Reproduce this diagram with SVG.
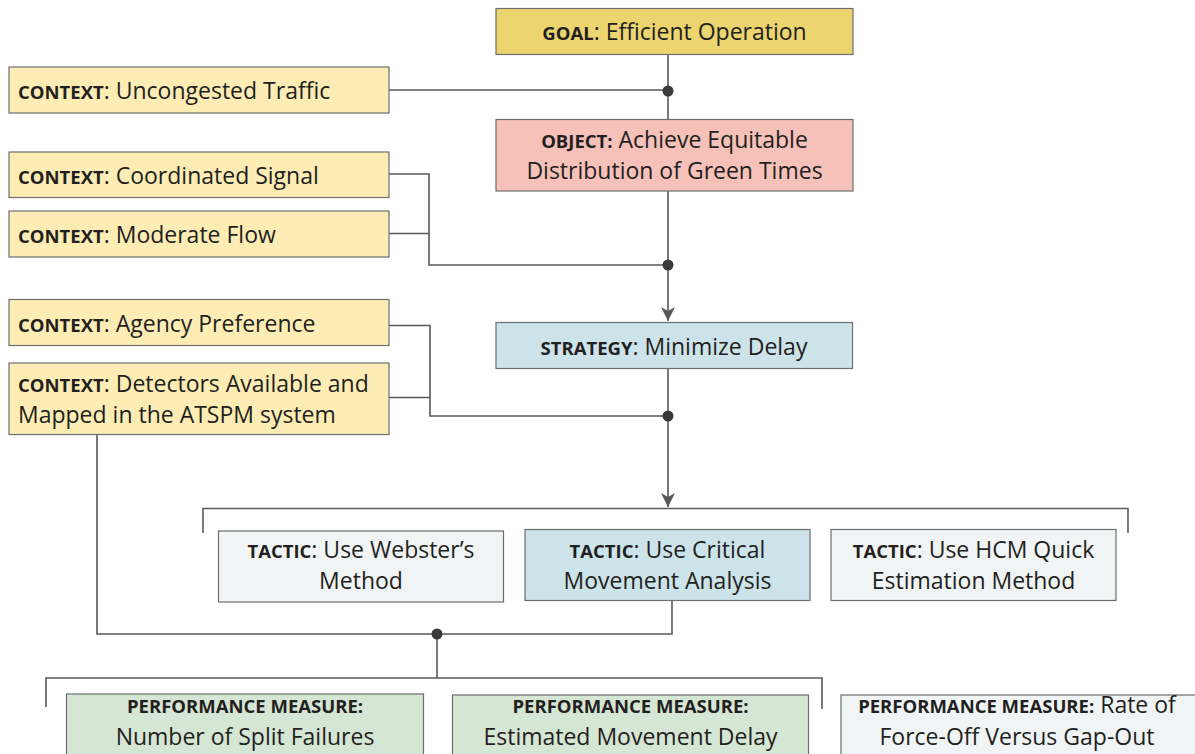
<svg xmlns="http://www.w3.org/2000/svg" width="1195" height="754" viewBox="0 0 1195 754">
<style>
.box{stroke:#6d6e70;stroke-width:1.2}
.goal{fill:#ecd46f}
.ctx{fill:#fdedb5}
.obj{fill:#f6c1b9}
.blue{fill:#cce3ea}
.light{fill:#f0f4f5}
.green{fill:#d6e6d4}
text{font-family:"Open Sans","Noto Sans","Liberation Sans",sans-serif;font-size:23px;fill:#231f20}
.b{font-weight:bold;font-size:18.5px}
.c{text-anchor:middle}
.ln{fill:none;stroke:#58595b;stroke-width:1.6}
.dot{fill:#3a3a3c}
</style>
<defs>
<marker id="arr" markerUnits="userSpaceOnUse" markerWidth="14" markerHeight="14" refX="14" refY="7" orient="auto">
<path d="M0,0 L14,7 L0,14 L4,7 z" fill="#58595b"/>
</marker>
</defs>
<g id="connectors">
<path class="ln" d="M668,54 V119"/>
<path class="ln" d="M389,90 H668"/>
<path class="ln" d="M668,191 V321" marker-end="url(#arr)"/>
<path class="ln" d="M389,174 H429 V265 H668"/>
<path class="ln" d="M389,233.5 H429"/>
<path class="ln" d="M668,368 V507" marker-end="url(#arr)"/>
<path class="ln" d="M389,325.5 H430 V416 H668"/>
<path class="ln" d="M389,397.5 H430"/>
<path class="ln" d="M203,533 V508.5 H1128 V533"/>
<path class="ln" d="M97,434 V634 H672 V600"/>
<path class="ln" d="M437,634 V678"/>
<path class="ln" d="M46,707 V678 H822 V709"/>
<circle class="dot" cx="668" cy="91" r="5.5"/>
<circle class="dot" cx="668" cy="265" r="5.5"/>
<circle class="dot" cx="668" cy="416" r="5.5"/>
<circle class="dot" cx="437" cy="634" r="5.5"/>
</g>
<g id="goal">
<rect class="box goal" x="496" y="8.5" width="357" height="46"/>
<text class="c" x="674.5" y="40"><tspan class="b">GOAL</tspan>: Efficient Operation</text>
</g>
<g id="ctx1">
<rect class="box ctx" x="9" y="67" width="380" height="46"/>
<text x="18" y="99"><tspan class="b">CONTEXT</tspan>: Uncongested Traffic</text>
</g>
<g id="object">
<rect class="box obj" x="496" y="119.5" width="357" height="71.5"/>
<text class="c" x="674.5" y="148"><tspan class="b">OBJECT:</tspan> Achieve Equitable</text>
<text class="c" x="674.5" y="179">Distribution of Green Times</text>
</g>
<g id="ctx2">
<rect class="box ctx" x="9" y="152" width="380" height="45.5"/>
<text x="18" y="183.5"><tspan class="b">CONTEXT</tspan>: Coordinated Signal</text>
</g>
<g id="ctx3">
<rect class="box ctx" x="9" y="211" width="380" height="46"/>
<text x="18" y="243"><tspan class="b">CONTEXT</tspan>: Moderate Flow</text>
</g>
<g id="strategy">
<rect class="box blue" x="496" y="322.5" width="356.5" height="46"/>
<text class="c" x="674" y="354.5"><tspan class="b">STRATEGY</tspan>: Minimize Delay</text>
</g>
<g id="ctx4">
<rect class="box ctx" x="9" y="299.5" width="380" height="46"/>
<text x="18" y="331.5"><tspan class="b">CONTEXT</tspan>: Agency Preference</text>
</g>
<g id="ctx5">
<rect class="box ctx" x="9" y="363" width="380" height="71.5"/>
<text x="18" y="392"><tspan class="b">CONTEXT</tspan>: Detectors Available and</text>
<text x="18" y="423">Mapped in the ATSPM system</text>
</g>
<g id="tactic1">
<rect class="box light" x="218.5" y="531" width="285" height="71"/>
<text class="c" x="361" y="558"><tspan class="b">TACTIC</tspan>: Use Webster’s</text>
<text class="c" x="361" y="589">Method</text>
</g>
<g id="tactic2">
<rect class="box blue" x="525" y="529.5" width="285" height="71"/>
<text class="c" x="667.5" y="558"><tspan class="b">TACTIC</tspan>: Use Critical</text>
<text class="c" x="667.5" y="589">Movement Analysis</text>
</g>
<g id="tactic3">
<rect class="box light" x="831" y="529.5" width="285" height="71"/>
<text class="c" x="973.5" y="558"><tspan class="b">TACTIC</tspan>: Use HCM Quick</text>
<text class="c" x="973.5" y="589">Estimation Method</text>
</g>
<g id="pm1">
<rect class="box green" x="66.5" y="694" width="357" height="80"/>
<text class="c b" x="245" y="713">PERFORMANCE MEASURE:</text>
<text class="c" x="245" y="745">Number of Split Failures</text>
</g>
<g id="pm2">
<rect class="box green" x="452.5" y="695" width="356" height="80"/>
<text class="c b" x="630.5" y="713">PERFORMANCE MEASURE:</text>
<text class="c" x="630.5" y="745">Estimated Movement Delay</text>
</g>
<g id="pm3">
<rect class="box light" x="841" y="695" width="370" height="80"/>
<text class="c" x="1017" y="713"><tspan class="b">PERFORMANCE MEASURE:</tspan> Rate of</text>
<text class="c" x="1017" y="745">Force-Off Versus Gap-Out</text>
</g>
</svg>
